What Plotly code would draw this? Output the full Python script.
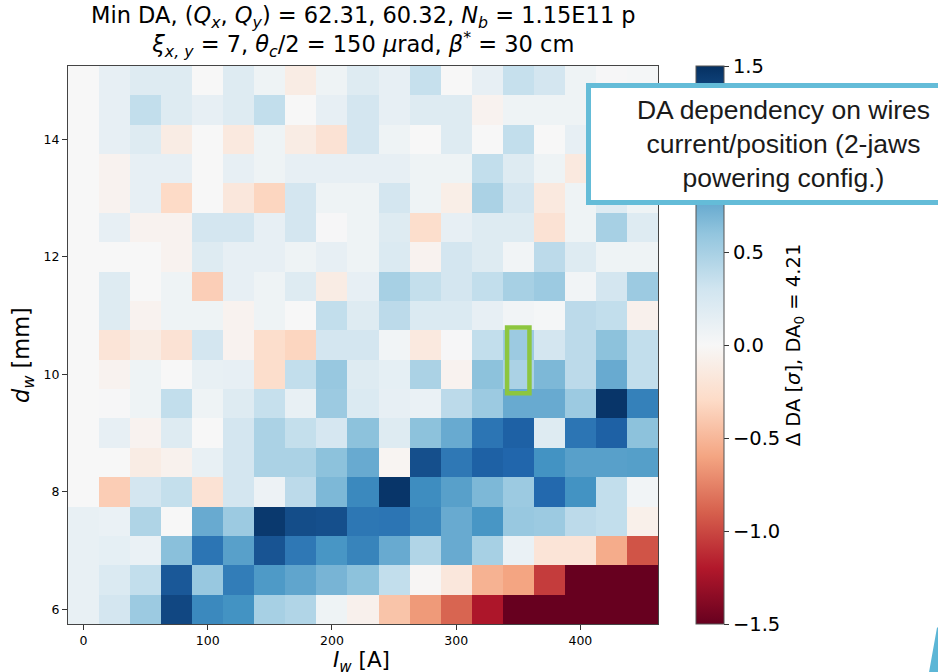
import plotly.graph_objects as go

# Wire current [A] (columns) and wire distance [mm] (rows)
current_a = [0, 25, 50, 75, 100, 125, 150, 175, 200, 225, 250, 275, 300, 325, 350, 375, 400, 425, 450]
position_mm = [6.0, 6.5, 7.0, 7.5, 8.0, 8.5, 9.0, 9.5, 10.0, 10.5, 11.0, 11.5, 12.0, 12.5, 13.0, 13.5, 14.0, 14.5, 15.0]

# Change of minimum DA w.r.t. DA0 = 4.21 sigma, one row per wire distance (6.0 mm first)
da_6p0 = [0.12, 0.28, 0.55, 1.37, 0.97, 0.90, 0.50, 0.45, 0.07, -0.07, -0.43, -0.65, -0.88, -1.22, -1.5, -1.5, -1.5, -1.5, -1.5]
da_6p5 = [0.12, 0.22, 0.37, 1.28, 0.57, 1.05, 0.86, 0.79, 0.70, 0.62, 0.37, -0.02, -0.17, -0.53, -0.60, -1.05, -1.5, -1.5, -1.5]
da_7p0 = [0.12, 0.14, 0.10, 0.63, 1.10, 0.82, 1.30, 1.08, 0.88, 1.00, 0.76, 0.45, 0.76, 0.50, 0.10, -0.20, -0.20, -0.56, -0.95]
da_7p5 = [0.12, 0.10, 0.46, 0.00, 0.76, 0.55, 1.45, 1.34, 1.33, 1.09, 1.10, 0.98, 0.76, 0.88, 0.57, 0.55, 0.40, 0.37, -0.08]
da_8p0 = [0.00, -0.38, 0.28, 0.36, -0.22, 0.28, 0.08, 0.40, 0.68, 0.97, 1.47, 0.94, 0.82, 0.68, 0.55, 1.18, 0.90, 0.37, 0.05]
da_8p5 = [0.00, 0.00, -0.12, -0.06, 0.12, 0.28, 0.48, 0.48, 0.62, 0.76, -0.03, 1.33, 1.08, 1.23, 1.20, 0.90, 0.82, 0.82, 0.83]
da_9p0 = [0.00, 0.13, -0.05, 0.20, 0.00, 0.28, 0.48, 0.36, 0.26, 0.62, 0.20, 0.62, 0.76, 1.10, 1.23, 0.20, 1.10, 1.23, 0.62]
da_9p5 = [0.00, 0.01, 0.07, 0.37, 0.07, 0.20, 0.35, 0.12, 0.55, 0.22, 0.13, 0.10, 0.40, 0.55, 0.76, 0.76, 0.55, 1.47, 1.02]
da_10p0 = [0.00, -0.05, 0.07, 0.00, 0.12, 0.13, -0.27, 0.37, 0.57, 0.20, 0.14, 0.48, -0.05, 0.62, 0.48, 0.68, 0.40, 0.76, 0.37]
da_10p5 = [0.00, -0.20, -0.12, -0.22, 0.28, -0.05, -0.27, -0.33, 0.28, 0.28, 0.05, -0.15, 0.01, 0.37, 0.55, 0.28, 0.40, 0.62, 0.37]
da_11p0 = [0.00, 0.20, -0.05, 0.07, 0.07, -0.05, 0.07, 0.00, 0.37, 0.20, 0.40, 0.22, 0.22, 0.13, 0.05, 0.02, 0.40, 0.37, -0.07]
da_11p5 = [0.00, 0.20, 0.00, 0.07, -0.37, 0.13, 0.07, 0.20, -0.12, 0.13, 0.50, 0.36, 0.28, 0.37, 0.50, 0.55, 0.05, 0.28, 0.55]
da_12p0 = [0.00, 0.00, 0.00, -0.05, 0.20, 0.13, 0.13, 0.07, 0.13, 0.07, 0.22, -0.05, 0.28, 0.20, 0.05, 0.40, 0.20, 0.07, 0.07]
da_12p5 = [0.00, 0.13, -0.05, -0.05, 0.28, 0.28, 0.13, 0.28, 0.01, 0.07, 0.20, -0.27, 0.13, 0.20, 0.20, -0.22, 0.07, 0.50, 0.20]
da_13p0 = [0.00, -0.05, 0.13, -0.30, 0.00, -0.17, -0.33, 0.28, 0.07, 0.07, 0.28, 0.07, -0.10, 0.48, 0.28, -0.15, 0.07, 0.20, 0.07]
da_13p5 = [0.00, -0.05, 0.13, 0.13, 0.00, 0.13, 0.07, 0.13, 0.13, 0.13, 0.13, 0.07, 0.07, 0.37, 0.20, 0.07, -0.15, 0.10, 0.05]
da_14p0 = [0.00, 0.13, 0.20, -0.12, 0.00, -0.15, 0.07, -0.12, -0.22, 0.28, 0.07, 0.00, 0.20, 0.00, 0.37, 0.00, 0.13, 0.05, 0.10]
da_14p5 = [0.00, 0.13, 0.37, 0.20, 0.13, 0.20, 0.37, 0.00, 0.13, 0.28, 0.13, 0.20, 0.20, -0.05, 0.07, 0.07, 0.07, 0.10, 0.15]
da_15p0 = [0.00, 0.13, 0.20, 0.20, 0.00, 0.20, 0.07, -0.12, 0.07, 0.20, 0.13, 0.35, 0.00, 0.13, 0.35, 0.28, 0.07, 0.01, 0.02]

delta_da = [da_6p0, da_6p5, da_7p0, da_7p5, da_8p0, da_8p5, da_9p0, da_9p5, da_10p0, da_10p5,
            da_11p0, da_11p5, da_12p0, da_12p5, da_13p0, da_13p5, da_14p0, da_14p5, da_15p0]

x_ticks = [0, 100, 200, 300, 400]
y_ticks = [6, 8, 10, 12, 14]
# the 1.0 label sits behind the call-out box, so only the visible ones are listed
cbar_ticks = [-1.5, -1.0, -0.5, 0.0, 0.5, 1.5]

# Highlighted working point (I_w, d_w ranges)
highlight_i = [341, 359]
highlight_d = [9.68, 10.80]

rdbu = ['#67001f', '#b2182b', '#d6604d', '#f4a582', '#fddbc7', '#f7f7f7',
        '#d1e5f0', '#92c5de', '#4393c3', '#2166ac', '#053061']
colorscale = [[i / (len(rdbu) - 1), c] for i, c in enumerate(rdbu)]

MPL_FONT = 'DejaVu Sans'

fig = go.Figure(go.Heatmap(
    x=current_a,
    y=position_mm,
    z=delta_da,
    zmin=-1.5,
    zmax=1.5,
    colorscale=colorscale,
    colorbar=dict(
        x=1.0644, xanchor='left', xpad=0, ypad=0,
        y=0.5, yanchor='middle', len=1, lenmode='fraction',
        thickness=28, thicknessmode='pixels',
        outlinewidth=1, outlinecolor='#555555',
        ticks='outside', ticklen=5, tickwidth=1, tickcolor='#333333',
        tickvals=cbar_ticks, tickformat='.1f',
        tickfont=dict(family=MPL_FONT, size=19.5, color='black'),
        title=dict(text='Δ DA [<i>σ</i>], DA<sub>0</sub> = 4.21', side='right',
                   font=dict(family=MPL_FONT, size=19.5, color='black')),
    ),
    hoverinfo='skip',
))

axis_common = dict(
    showline=True, linecolor='#444444', linewidth=1.2, mirror=True,
    ticks='outside', ticklen=5, tickwidth=1, tickcolor='#333333',
    tickfont=dict(family=MPL_FONT, size=12.5, color='black'),
    showgrid=False, zeroline=False, automargin=False,
)

fig.update_xaxes(range=[-12.5, 462.5], tickvals=x_ticks, **axis_common)
fig.update_yaxes(range=[5.75, 15.25], tickvals=y_ticks, **axis_common)

# Axis titles
fig.add_annotation(xref='paper', yref='paper', x=0.497, y=-0.068,
                   xanchor='center', yanchor='middle', showarrow=False,
                   text='<i>I</i><sub><i>w</i></sub> [A]',
                   font=dict(family=MPL_FONT, size=21.5, color='black'))
fig.add_annotation(xref='paper', yref='paper', x=-0.0751, y=0.4817,
                   xanchor='center', yanchor='middle', showarrow=False, textangle=-90,
                   text='<i>d</i><sub><i>w</i></sub> [mm]',
                   font=dict(family=MPL_FONT, size=22.5, color='black'))

# Highlight rectangle around the chosen configuration
fig.add_shape(type='rect', xref='x', yref='y',
              x0=highlight_i[0], x1=highlight_i[1], y0=highlight_d[0], y1=highlight_d[1],
              line=dict(color='#8dc63f', width=4.5), fillcolor='rgba(0,0,0,0)', layer='above')

# Decorative slide accent in the lower right corner
fig.add_shape(type='path', xref='paper', yref='paper',
              path='M 1.4593,-0.0868 L 1.4729,-0.0061 L 1.52,-0.0061 L 1.52,-0.12 L 1.45,-0.12 Z',
              fillcolor='#5cb6d6', line=dict(width=0), layer='above')

fig.add_annotation(
    xref='paper', yref='paper', x=0.5, y=1.061, xanchor='center', yanchor='middle',
    text=('Min DA, (<i>Q</i><sub><i>x</i></sub>, <i>Q</i><sub><i>y</i></sub>) = 62.31, 60.32, '
          '<i>N</i><sub><i>b</i></sub> = 1.15E11 p<br>'
          '<i>ξ</i><sub><i>x, y</i></sub> = 7, <i>θ</i><sub><i>c</i></sub>/2 = 150 <i>μ</i>rad, '
          '<i>β</i><sup>*</sup> = 30 cm'),
    showarrow=False, align='center',
    font=dict(family=MPL_FONT, size=22.5, color='black'),
)

# Call-out box
fig.add_annotation(
    xref='paper', yref='paper', x=0.8775, y=0.9695, xanchor='left', yanchor='top',
    text='DA dependency on wires<br>current/position (2-jaws<br>powering config.)',
    showarrow=False, align='center', valign='middle',
    width=385, height=112, borderpad=0,
    bgcolor='white', bordercolor='#64bcd8', borderwidth=5,
    font=dict(family='Liberation Sans', size=26.5, color='#1a1a1a'),
)

fig.update_layout(
    width=938, height=672, autosize=False,
    margin=dict(l=68, r=280, t=66, b=48),
    paper_bgcolor='white', plot_bgcolor='white',
    showlegend=False,
)

fig.write_html('out.html')
